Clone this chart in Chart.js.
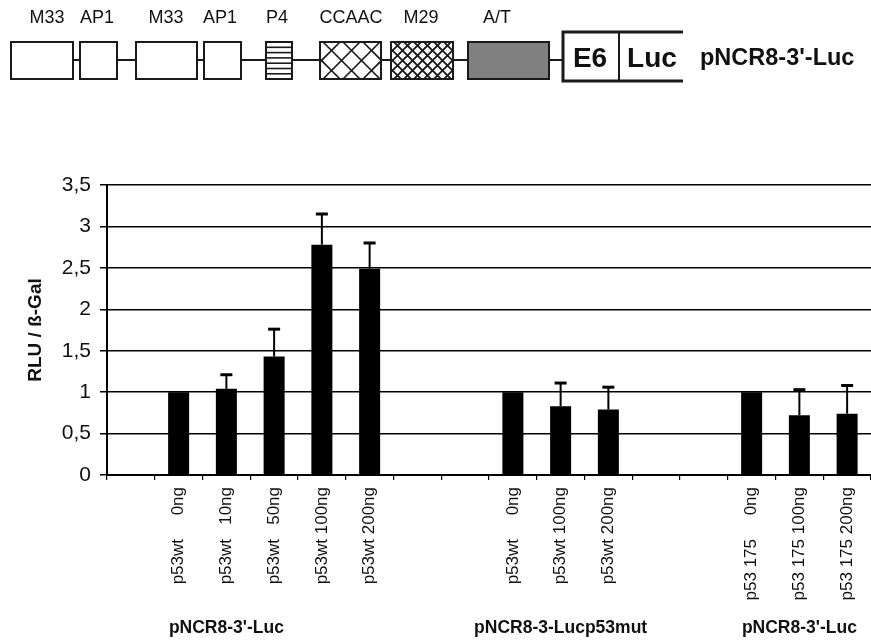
<!DOCTYPE html>
<html>
<head>
<meta charset="utf-8">
<script src="https://cdn.jsdelivr.net/npm/chart.js@4/dist/chart.umd.min.js"></script>
<style>
  html, body { margin: 0; padding: 0; background: #fff; }
  #wrap { width: 871px; height: 641px; position: relative; }
</style>
</head>
<body>
<div id="wrap"><canvas id="chart"></canvas></div>
<script>
// categories (empty ones are the gaps between the three groups)
const categories = [
  "",
  "p53wt     0ng", "p53wt   10ng", "p53wt   50ng", "p53wt 100ng", "p53wt 200ng",
  "", "",
  "p53wt     0ng", "p53wt 100ng", "p53wt 200ng",
  "", "",
  "p53 175     0ng", "p53 175 100ng", "p53 175 200ng"
];
const values = [null, 1.00, 1.04, 1.43, 2.78, 2.49, null, null, 1.00, 0.83, 0.79, null, null, 1.00, 0.72, 0.74];
const errors = [null, 0, 0.17, 0.33, 0.37, 0.31, null, null, 0, 0.28, 0.27, null, null, 0, 0.31, 0.34];
const groupNames = ["pNCR8-3'-Luc", "pNCR8-3-Lucp53mut", "pNCR8-3'-Luc"];
const groupAt = [2, 9, 14];
const yTicks = [0, 0.5, 1, 1.5, 2, 2.5, 3, 3.5];
const elementNames = ["M33", "AP1", "M33", "AP1", "P4", "CCAAC", "M29", "A/T"];

const FONT = "'Liberation Sans', Arial, Helvetica, sans-serif";

// promoter construct drawn above the chart
function drawConstruct(ctx) {
  const top = 42, bot = 79, mid = 60;
  const boxes = [[11, 73], [80, 117], [136, 197], [204, 241], [266, 292], [320, 381], [391, 453], [468, 549]];
  const labelX = [47, 97, 166, 220, 277, 351, 421, 497];
  ctx.save();
  ctx.strokeStyle = "#1a1a1a";
  ctx.lineWidth = 2;
  ctx.beginPath();
  ctx.moveTo(boxes[0][1], mid);
  ctx.lineTo(563, mid);
  ctx.stroke();

  boxes.forEach((b, i) => {
    const x = b[0], w = b[1] - b[0], h = bot - top;
    ctx.fillStyle = i === 7 ? "#808080" : "#fff";
    ctx.fillRect(x, top, w, h);
    ctx.save();
    ctx.beginPath();
    ctx.rect(x, top, w, h);
    ctx.clip();
    ctx.lineWidth = 1.6;
    if (i === 4) {
      for (let y = top + 5.3; y < bot; y += 5.3) {
        ctx.beginPath(); ctx.moveTo(x, y); ctx.lineTo(x + w, y); ctx.stroke();
      }
    } else if (i === 5 || i === 6) {
      const step = i === 5 ? 20 : 10;
      ctx.lineWidth = i === 5 ? 1.6 : 1.8;
      for (let s = -h; s < w + h; s += step) {
        ctx.beginPath(); ctx.moveTo(x + s, top); ctx.lineTo(x + s + h, bot); ctx.stroke();
        ctx.beginPath(); ctx.moveTo(x + s + h, top); ctx.lineTo(x + s, bot); ctx.stroke();
      }
    }
    ctx.restore();
    ctx.lineWidth = 2;
    ctx.strokeRect(x, top, w, h);
  });

  ctx.fillStyle = "#111";
  ctx.font = "18px " + FONT;
  ctx.textAlign = "center";
  ctx.textBaseline = "middle";
  elementNames.forEach((n, i) => ctx.fillText(n, labelX[i], 18));

  // E6 | Luc reporter
  ctx.lineWidth = 3;
  ctx.beginPath();
  ctx.moveTo(683, 32); ctx.lineTo(563, 32); ctx.lineTo(563, 81); ctx.lineTo(683, 81);
  ctx.stroke();
  ctx.lineWidth = 2;
  ctx.beginPath(); ctx.moveTo(619, 32); ctx.lineTo(619, 81); ctx.stroke();
  ctx.font = "bold 28px " + FONT;
  ctx.fillText("E6", 590, 59);
  ctx.fillText("Luc", 652, 59);
  ctx.font = "bold 23.5px " + FONT;
  ctx.textAlign = "left";
  ctx.fillText("pNCR8-3'-Luc", 700, 59);
  ctx.restore();
}

const extras = {
  id: "extras",
  afterDatasetsDraw(chart) {
    const ctx = chart.ctx, y = chart.scales.y;
    const meta = chart.getDatasetMeta(0);
    ctx.save();
    ctx.strokeStyle = "#000";
    meta.data.forEach((bar, i) => {
      if (values[i] == null || !errors[i]) return;
      const t = y.getPixelForValue(values[i] + errors[i]);
      ctx.lineWidth = 2;
      ctx.beginPath(); ctx.moveTo(bar.x, bar.y); ctx.lineTo(bar.x, t); ctx.stroke();
      ctx.lineWidth = 3;
      ctx.beginPath(); ctx.moveTo(bar.x - 6, t); ctx.lineTo(bar.x + 6, t); ctx.stroke();
    });
    ctx.restore();
  },
  afterDraw(chart) {
    const ctx = chart.ctx, x = chart.scales.x;
    ctx.save();
    ctx.fillStyle = "#111";
    ctx.font = "bold 17.5px " + FONT;
    ctx.textAlign = "center";
    ctx.textBaseline = "middle";
    groupNames.forEach((g, i) => ctx.fillText(g, x.getPixelForValue(groupAt[i]), 628));
    ctx.restore();
    drawConstruct(ctx);
  }
};

new Chart(document.getElementById("chart"), {
  type: "bar",
  data: {
    labels: categories,
    datasets: [{
      data: values,
      backgroundColor: "#000",
      borderWidth: 0,
      categoryPercentage: 1,
      barPercentage: 0.44
    }]
  },
  options: {
    responsive: true,
    maintainAspectRatio: false,
    animation: false,
    layout: { padding: { top: 185, left: 0, right: 0, bottom: 0 } },
    plugins: { legend: { display: false }, tooltip: { enabled: false } },
    scales: {
      x: {
        afterFit: s => { s.height = 166; s.paddingRight = 0; s.paddingLeft = 0; },
        grid: { drawOnChartArea: false, drawTicks: true, tickLength: 5, color: "#000", lineWidth: 1.2 },
        border: { color: "#000", width: 2 },
        ticks: {
          autoSkip: false, minRotation: 90, maxRotation: 90, padding: 7,
          color: "#111", font: { family: FONT, size: 17 }
        }
      },
      y: {
        min: 0, max: 3.5,
        afterFit: s => { s.width = 107; s.paddingTop = 0; },
        afterBuildTicks: s => { s.ticks = yTicks.map(v => ({ value: v })); },
        grid: { color: "#000", lineWidth: 1.5, tickLength: 7 },
        border: { color: "#000", width: 2 },
        ticks: {
          padding: 9, color: "#111", font: { family: FONT, size: 21 },
          callback: v => String(v).replace(".", ",")
        },
        title: {
          display: true, text: "RLU / ß-Gal", color: "#111",
          font: { family: FONT, size: 19, weight: "bold" },
          padding: { top: 24, bottom: 0 }
        }
      }
    }
  },
  plugins: [extras]
});
</script>
</body>
</html>
